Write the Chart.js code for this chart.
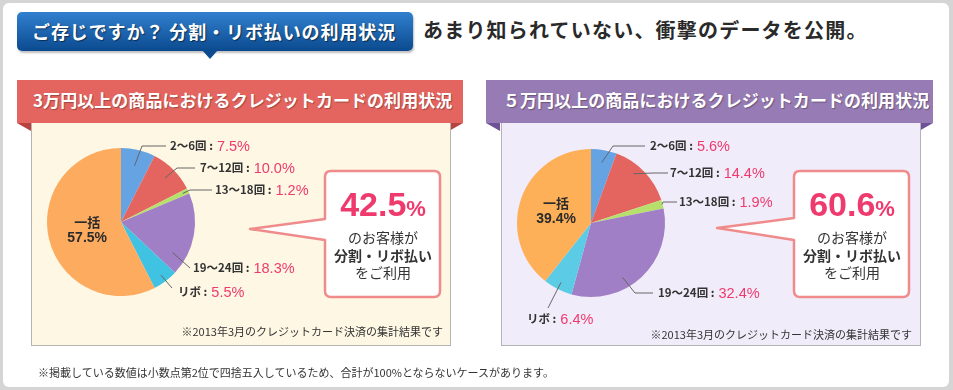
<!DOCTYPE html>
<html lang="ja">
<head>
<meta charset="utf-8">
<script src="https://cdn.jsdelivr.net/npm/chart.js@4/dist/chart.umd.min.js"></script>
<style>
  html, body { margin: 0; padding: 0; }
  body { width: 953px; height: 390px; background: #d5d5d5; position: relative; overflow: hidden;
         font-family: 'Noto Sans CJK JP', sans-serif; }
  .abs { position: absolute; }
  #frame { left: 3px; top: 3px; width: 946px; height: 384px; background: #fff; border-radius: 6px; }
  #badge { left: 17px; top: 12px; width: 396px; height: 39px; border-radius: 5px;
           background: linear-gradient(#3180cf, #0b4a8f); box-shadow: 1px 2px 2px rgba(0,0,0,0.25);
           color: #fff; font-weight: bold; font-size: 18px; line-height: 38px; padding-left: 15px;
           box-sizing: border-box; letter-spacing: 0.9px; text-shadow: 1px 1px 1px rgba(0,0,0,0.5); white-space: nowrap; }
  #badgeTip { left: 202px; top: 50px; width: 0; height: 0; border-left: 8px solid transparent;
              border-right: 8px solid transparent; border-top: 9px solid #0d4b90; }
  #lead { left: 423px; top: 15px; font-size: 20px; font-weight: bold; color: #2a2a2a; letter-spacing: 1.2px; white-space: nowrap; }
  .head { top: 80px; height: 43px; color: #fff; font-weight: bold; font-size: 17px; line-height: 40px;
          letter-spacing: 0.05px; text-shadow: 1px 1px 1px rgba(0,0,0,0.3); white-space: nowrap; box-sizing: border-box; }
  .fold { top: 123px; width: 0; height: 0; }
  .box { top: 123px; height: 222px; border: 1px solid #b4b4b4; border-top: none; }
  .chartBox { top: 123px; width: 290px; height: 223px; }
  .note { font-size: 11px; color: #333; white-space: nowrap; }
  .callTxt { text-align: center; color: #333; }
  .big { font-family: 'Liberation Sans', Arial, sans-serif; font-weight: bold; color: #ef3a6e; font-size: 34px; line-height: 34px; }
  .big span { font-size: 22px; }
  .sub { font-size: 14px; line-height: 17.5px; }
</style>
</head>
<body>
<div id="frame" class="abs"></div>
<div id="badge" class="abs">ご存じですか？ 分割・リボ払いの利用状況</div>
<div id="badgeTip" class="abs"></div>
<div id="lead" class="abs">あまり知られていない、衝撃のデータを公開。</div>

<!-- left panel -->
<div class="abs head" style="left:17px;width:446px;background:#e4655f;padding-left:16px;">3万円以上の商品におけるクレジットカードの利用状況</div>
<div class="abs fold" style="left:17px;border-top:8px solid #b8423e;border-left:14px solid transparent;"></div>
<div class="abs fold" style="left:449px;border-top:8px solid #b8423e;border-right:14px solid transparent;"></div>
<div class="abs box" style="left:31px;width:418px;background:#fdf7e4;"></div>
<div class="abs chartBox" style="left:31px;"><canvas id="pieA"></canvas></div>

<!-- right panel -->
<div class="abs head" style="left:486px;width:447px;background:#977bb4;padding-left:17px;">５万円以上の商品におけるクレジットカードの利用状況</div>
<div class="abs fold" style="left:486px;border-top:8px solid #6f5295;border-left:14px solid transparent;"></div>
<div class="abs fold" style="left:919px;border-top:8px solid #6f5295;border-right:14px solid transparent;"></div>
<div class="abs box" style="left:501px;width:418px;background:#f1ecf9;"></div>
<div class="abs chartBox" style="left:501px;"><canvas id="pieB"></canvas></div>

<svg class="abs" style="left:0;top:0;" width="953" height="390">
  <path id="callA" fill="#fff" stroke="#f08b8b" stroke-width="2.5" stroke-linejoin="round"></path>
  <path id="callB" fill="#fff" stroke="#f08b8b" stroke-width="2.5" stroke-linejoin="round"></path>
</svg>

<div class="abs callTxt" style="left:325px;top:187px;width:116px;">
  <div class="big" id="shareA"></div>
  <div class="sub" style="margin-top:3px;">のお客様が<br><b>分割・リボ払い</b><br>をご利用</div>
</div>
<div class="abs callTxt" style="left:794px;top:187px;width:116px;">
  <div class="big" id="shareB"></div>
  <div class="sub" style="margin-top:3px;">のお客様が<br><b>分割・リボ払い</b><br>をご利用</div>
</div>

<div class="abs note" style="right:510px;top:323px;">※2013年3月のクレジットカード決済の集計結果です</div>
<div class="abs note" style="right:41px;top:326px;">※2013年3月のクレジットカード決済の集計結果です</div>
<div class="abs note" style="left:38px;top:364px;">※掲載している数値は小数点第2位で四捨五入しているため、合計が100%とならないケースがあります。</div>

<script>
// categories and values (percent)
const categories = ['2～6回', '7～12回', '13～18回', '19～24回', 'リボ', '一括'];
const over30k = [7.5, 10.0, 1.2, 18.3, 5.5, 57.5];
const over50k = [5.6, 14.4, 1.9, 32.4, 6.4, 39.4];
const splitShare30k = 42.5;
const splitShare50k = 60.6;

const sliceColors = ['#65a3e3', '#e4655f', '#b7df6b', '#a07fc6', '#40c2e3', '#fdab5f'];
const sliceColorsB = ['#65a3e3', '#e4655f', '#b7df6b', '#a07fc6', '#5ccbe6', '#fdb058'];

// label placement: t = position along slice, rf = radius fraction for line start,
// elbow / end / text are offsets from the pie centre
const layoutA = [
  { t: 0.5, rf: 0.78, elbow: [21, -76], end: 45, text: [49, -76] },
  { t: 0.5, rf: 0.84, elbow: [56, -54], end: 74, text: [79, -54] },
  { t: 0.5, rf: 0.92, elbow: [69, -32], end: 91, text: [94, -32] },
  { t: 0.81, rf: 0.81, elbow: [69, 46], end: 69, text: [72, 46] },
  { t: 0.5, rf: 0.9, elbow: [51, 66], end: 51, text: [57, 70] },
  { inner: true, rf: 0.47 }
];
const layoutB = [
  { t: 0.5, rf: 0.83, elbow: [22, -77], end: 54, text: [59, -77] },
  { t: 0.4, rf: 0.88, elbow: [62, -50], end: 77, text: [79, -50] },
  { t: 0.5, rf: 0.99, elbow: [72, -21], end: 86, text: [88, -21] },
  { t: 0.61, rf: 0.85, elbow: [44, 70], end: 62, text: [67, 70] },
  { t: 0.5, rf: 0.9, elbow: [-43, 85], end: -43, text: [-64, 96] },
  { inner: true, rf: 0.5 }
];

const leaderLabels = {
  id: 'leaderLabels',
  afterDatasetsDraw(chart, args, opts) {
    const ctx = chart.ctx;
    const arcs = chart.getDatasetMeta(0).data;
    const vals = chart.data.datasets[0].data;
    const names = chart.data.labels;
    ctx.save();
    opts.layout.forEach((lay, i) => {
      const p = arcs[i].getProps(['x', 'y', 'startAngle', 'endAngle', 'outerRadius'], true);
      const pct = vals[i].toFixed(1) + '%';
      if (lay.inner) {
        const a = (p.startAngle + p.endAngle) / 2;
        const lx = p.x + Math.cos(a) * p.outerRadius * lay.rf;
        const ly = p.y + Math.sin(a) * p.outerRadius * lay.rf;
        ctx.fillStyle = '#2b2b2b';
        ctx.textAlign = 'center';
        ctx.textBaseline = 'middle';
        ctx.font = 'bold 13px "Noto Sans CJK JP"';
        ctx.fillText(names[i], lx, ly - 8);
        ctx.font = 'bold 14px "Liberation Sans"';
        ctx.fillText(pct, lx, ly + 8);
        return;
      }
      const a = p.startAngle + (p.endAngle - p.startAngle) * lay.t;
      const sx = p.x + Math.cos(a) * p.outerRadius * lay.rf;
      const sy = p.y + Math.sin(a) * p.outerRadius * lay.rf;
      ctx.strokeStyle = '#666';
      ctx.lineWidth = 1;
      ctx.beginPath();
      ctx.moveTo(sx, sy);
      ctx.lineTo(p.x + lay.elbow[0], p.y + lay.elbow[1]);
      ctx.lineTo(p.x + lay.end, p.y + lay.elbow[1]);
      ctx.stroke();
      const tx = p.x + lay.text[0], ty = p.y + lay.text[1];
      ctx.textAlign = 'left';
      ctx.textBaseline = 'middle';
      ctx.font = 'bold 11.5px "Noto Sans CJK JP"';
      ctx.fillStyle = '#333';
      const nm = names[i] + ' :';
      ctx.fillText(nm, tx, ty);
      const w = ctx.measureText(nm).width;
      ctx.font = '14.5px "Liberation Sans"';
      ctx.fillStyle = '#ef3a6e';
      ctx.fillText(pct, tx + w + 4, ty + 0.5);
    });
    ctx.restore();
  }
};

function makePie(id, values, colors, padding, layout) {
  return new Chart(document.getElementById(id), {
    type: 'pie',
    data: {
      labels: categories,
      datasets: [{ data: values, backgroundColor: colors, borderWidth: 0 }]
    },
    options: {
      responsive: true,
      maintainAspectRatio: false,
      animation: false,
      events: [],
      layout: { padding: padding },
      plugins: {
        legend: { display: false },
        tooltip: { enabled: false },
        leaderLabels: { layout: layout }
      }
    },
    plugins: [leaderLabels]
  });
}

makePie('pieA', over30k, sliceColors, { left: 16, top: 25, right: 126, bottom: 50 }, layoutA);
makePie('pieB', over50k, sliceColorsB, { left: 16, top: 26, right: 126, bottom: 49 }, layoutB);

// callout balloons with a pointer on the left side
function balloon(x0, y0, x1, y1, r, pTop, pBot, tip) {
  return `M${x0 + r},${y0} H${x1 - r} Q${x1},${y0} ${x1},${y0 + r} V${y1 - r} Q${x1},${y1} ${x1 - r},${y1}` +
    ` H${x0 + r} Q${x0},${y1} ${x0},${y1 - r} V${pBot} L${tip[0]},${tip[1]} L${x0},${pTop}` +
    ` V${y0 + r} Q${x0},${y0} ${x0 + r},${y0} Z`;
}
document.getElementById('callA').setAttribute('d', balloon(325, 171, 440, 297, 6, 219, 240, [250, 229]));
document.getElementById('callB').setAttribute('d', balloon(794, 171, 909, 297, 6, 218, 240, [717, 228]));

document.getElementById('shareA').innerHTML = splitShare30k.toFixed(1) + '<span>%</span>';
document.getElementById('shareB').innerHTML = splitShare50k.toFixed(1) + '<span>%</span>';
</script>
</body>
</html>
